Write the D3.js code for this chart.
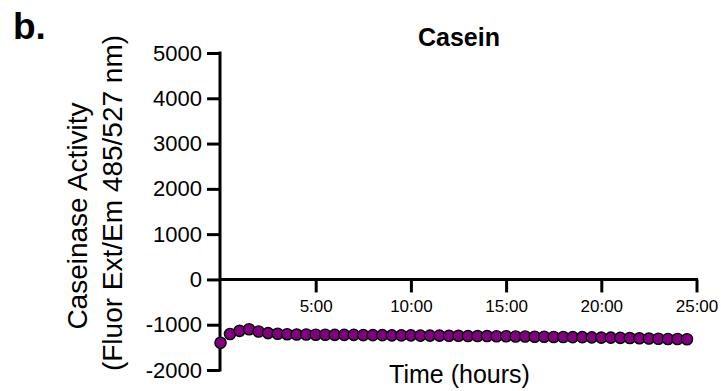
<!DOCTYPE html>
<html><head><meta charset="utf-8">
<script src="https://cdn.jsdelivr.net/npm/d3@7"></script>
<style>body{margin:0;background:#fff}svg{display:block}text{font-family:"Liberation Sans",Arial,sans-serif}</style>
</head><body>
<svg id="c" width="721" height="391"></svg>
<script>
const times = [0,0.5,1,1.5,2,2.5,3,3.5,4,4.5,5,5.5,6,6.5,7,7.5,8,8.5,9,9.5,10,10.5,11,11.5,12,12.5,13,13.5,14,14.5,15,15.5,16,16.5,17,17.5,18,18.5,19,19.5,20,20.5,21,21.5,22,22.5,23,23.5,24,24.5];
const values = [-1400,-1205,-1135,-1100,-1150,-1185,-1200,-1210,-1215,-1215,-1220,-1220,-1225,-1225,-1225,-1230,-1230,-1230,-1235,-1235,-1235,-1240,-1240,-1240,-1245,-1245,-1250,-1250,-1250,-1255,-1255,-1260,-1260,-1265,-1265,-1270,-1270,-1275,-1275,-1280,-1285,-1285,-1290,-1295,-1300,-1305,-1310,-1315,-1315,-1320];
const yTicks = [-2000,-1000,0,1000,2000,3000,4000,5000];
const xTicks = [5,10,15,20,25];
const xTickLabels = ["5:00","10:00","15:00","20:00","25:00"];

const svg = d3.select("#c");
const x = d3.scaleLinear().domain([0,25]).range([220.5,696.5]);
const y = d3.scaleLinear().domain([-2000,5000]).range([370,53]);

// Y axis
const yAxis = svg.append("g").attr("transform","translate(220,0)")
  .call(d3.axisLeft(y).tickValues(yTicks).tickSize(13).tickPadding(5).tickFormat(d=>d));
yAxis.select(".domain").attr("d",`M0,${y(5000)-1.5}V${y(-2000)+1.5}`);
yAxis.selectAll("path,line").attr("stroke","#000").attr("stroke-width",3);
yAxis.selectAll("text").attr("font-size",22).attr("fill","#000").attr("font-family","Liberation Sans, Arial, sans-serif");

// X axis at y=0
const xAxis = svg.append("g").attr("transform",`translate(0,${y(0)})`)
  .call(d3.axisBottom(x).tickValues(xTicks).tickSize(13).tickPadding(8).tickFormat((d,i)=>xTickLabels[i]));
xAxis.select(".domain").attr("d",`M${x(0)-1.5},0H${x(25)+1.5}`);
xAxis.selectAll("path,line").attr("stroke","#000").attr("stroke-width",3);
xAxis.selectAll("text").attr("font-size",17).attr("fill","#000").attr("font-family","Liberation Sans, Arial, sans-serif");

// points
svg.append("g").selectAll("circle").data(times).join("circle")
  .attr("cx",(d)=>x(d)).attr("cy",(d,i)=>y(values[i])).attr("r",5.6)
  .attr("fill","#800080").attr("stroke","#000").attr("stroke-width",1.4);

// texts
svg.append("text").attr("x",13).attr("y",39).attr("font-size",37).attr("font-weight","bold").text("b.");
svg.append("text").attr("x",459).attr("y",46).attr("text-anchor","middle").attr("font-size",25).attr("font-weight","bold").text("Casein");
svg.append("text").attr("x",459.5).attr("y",383).attr("text-anchor","middle").attr("font-size",25).text("Time (hours)");
svg.append("text").attr("transform","translate(87,216) rotate(-90)").attr("text-anchor","middle").attr("font-size",28).text("Caseinase Activity");
svg.append("text").attr("transform","translate(122,203) rotate(-90)").attr("text-anchor","middle").attr("font-size",28).text("(Fluor Ext/Em 485/527 nm)");
</script>
</body></html>
